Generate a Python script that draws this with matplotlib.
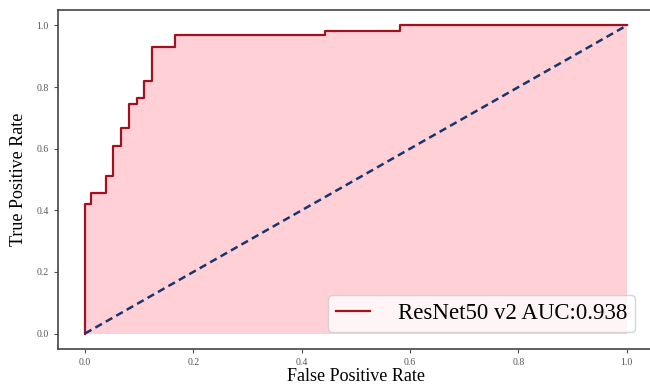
import numpy as np
import matplotlib.pyplot as plt

# ROC corner points
fpr = [0.0, 0.0, 0.0105, 0.0105, 0.038, 0.038, 0.052, 0.052, 0.066, 0.066,
       0.081, 0.081, 0.096, 0.096, 0.109, 0.109, 0.124, 0.124, 0.166, 0.166,
       0.443, 0.443, 0.581, 0.581, 1.0]
tpr = [0.0, 0.42, 0.42, 0.457, 0.457, 0.512, 0.512, 0.609, 0.609, 0.668,
       0.668, 0.746, 0.746, 0.765, 0.765, 0.819, 0.819, 0.93, 0.93, 0.97,
       0.97, 0.982, 0.982, 1.0, 1.0]
auc_label = 'ResNet50 v2 AUC:0.938'
ticks = [0.0, 0.2, 0.4, 0.6, 0.8, 1.0]

plt.rcParams['font.family'] = ['Liberation Serif', 'DejaVu Serif']

fig = plt.figure(figsize=(6.5, 3.86), dpi=100)
ax = fig.add_axes([0.089, 0.096, 0.917, 0.878])

ax.fill_between(fpr, tpr, 0, color='#ffd0d6', linewidth=0)
ax.plot(fpr, tpr, color='#a3101f', lw=1.6, label=auc_label)
ax.plot([0, 1], [0, 1], color='#173670', lw=1.8, linestyle=(0, (3, 1.8)))

ax.set_xlim(-0.05, 1.05)
ax.set_ylim(-0.05, 1.05)
ax.set_xticks(ticks)
ax.set_yticks(ticks)
ax.set_xticklabels([f'{t:.1f}' for t in ticks])
ax.set_yticklabels([f'{t:.1f}' for t in ticks])
ax.tick_params(labelsize=7, labelcolor='#555555', length=3, width=0.8, color='#555555')
for s in ax.spines.values():
    s.set_color('#444444')
    s.set_linewidth(1.2)
ax.spines['right'].set_visible(False)

ax.set_xlabel('False Positive Rate', fontsize=13, labelpad=1)
ax.set_ylabel('True Positive Rate', fontsize=13, labelpad=7)

ax.legend(loc='lower right', fontsize=16.5, handlelength=1.5, handletextpad=1.2,
          borderpad=0.35, bbox_to_anchor=(0.988, 0.015), framealpha=0.8)

fig.savefig('out.png', dpi=100)
